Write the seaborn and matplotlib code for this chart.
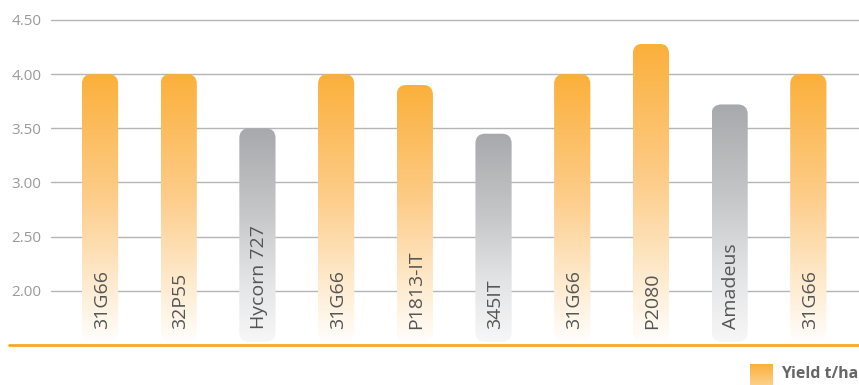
import numpy as np
import pandas as pd
import matplotlib
matplotlib.use("Agg")
import matplotlib.pyplot as plt
import seaborn as sns
from matplotlib.patches import FancyBboxPatch
from matplotlib.colors import LinearSegmentedColormap
from matplotlib.lines import Line2D

# ---- data ----
labels = ["31G66", "32P55", "Hycorn 727", "31G66", "P1813-IT", "345IT",
          "31G66", "P2080", "Amadeus", "31G66"]
yields = [4.00, 4.00, 3.50, 4.00, 3.90, 3.45, 4.00, 4.28, 3.72, 4.00]
groups = ["Pioneer", "Pioneer", "Other", "Pioneer", "Pioneer", "Other",
          "Pioneer", "Pioneer", "Other", "Pioneer"]
yticks = [2.00, 2.50, 3.00, 3.50, 4.00, 4.50]
legend_label = "Yield t/ha"

sns.set_theme(style="white")
plt.rcParams["font.family"] = ["Open Sans", "DejaVu Sans"]

W, H = 859, 385
fig = plt.figure(figsize=(W / 100, H / 100), dpi=100)
ax = fig.add_axes([51 / W, 40 / H, 1 - 51 / W, 1 - 40 / H])

df = pd.DataFrame({"pos": list(range(len(labels))), "yield": yields, "group": groups})
sns.barplot(data=df, x="pos", y="yield", hue="group",
            palette={"Pioneer": "#FBB03B", "Other": "#A7A9AC"},
            dodge=False, width=0.46, legend=False, ax=ax)

XL = (-0.623, 9.644)
YL = (1.5, 4.684)

orange_cmap = LinearSegmentedColormap.from_list(
    "o", [(0, "#FFFEFC"), (0.25, "#FEE8C8"), (0.55, "#FDCC88"), (1, "#FBB03B")])
gray_cmap = LinearSegmentedColormap.from_list(
    "g", [(0, "#F7F7F8"), (0.3, "#E2E3E4"), (0.6, "#C6C7C9"), (1, "#A7A9AC")])

bottom = 1.53
grad = np.linspace(1, 0, 256).reshape(-1, 1)
for p in list(ax.patches):
    x0 = p.get_x()
    w = p.get_width()
    top = p.get_height()
    idx = int(round(x0 + w / 2))
    p.set_visible(False)
    box = FancyBboxPatch((x0, bottom), w, top - bottom,
                         boxstyle="round,pad=0,rounding_size=0.125",
                         mutation_aspect=0.726, transform=ax.transData,
                         facecolor="none", edgecolor="none")
    ax.add_patch(box)
    cmap = orange_cmap if groups[idx] == "Pioneer" else gray_cmap
    im = ax.imshow(grad, cmap=cmap, extent=[x0, x0 + w, bottom, top],
                   aspect="auto", origin="upper", zorder=2, interpolation="bilinear")
    im.set_clip_path(box)
    ax.text(idx + 0.02, 1.5 + 16 / 108.4, labels[idx], rotation=90,
            ha="center", va="bottom", fontsize=14, color="#555555", zorder=3)

ax.set_xlim(*XL)
ax.set_ylim(*YL)
ax.set_yticks(yticks)
ax.set_yticklabels([f"{v:.2f}" for v in yticks], fontsize=11, color="#9A9A9A")
ax.tick_params(axis="y", length=0, pad=7)
ax.set_xticks([])
ax.set_xlabel("")
ax.set_ylabel("")
for v in yticks:
    ax.axhline(v, color="#B5B5B5", lw=1.0, zorder=0)
for s in ax.spines.values():
    s.set_visible(False)

# orange baseline
fig.add_artist(Line2D([9 / W, 1.0], [40 / H, 40 / H], color="#F9A825", lw=2.0))

# legend swatch
lax = fig.add_axes([750 / W, 0, 23 / W, 21 / H])
lax.imshow(grad, cmap=LinearSegmentedColormap.from_list("l", ["#FDD08A", "#FBB03B"]),
           aspect="auto", origin="upper")
lax.axis("off")
fig.text(781 / W, 3 / H, legend_label, fontsize=11.5, fontweight="bold",
         color="#666666", ha="left", va="bottom")

fig.savefig("out.png", dpi=100)
